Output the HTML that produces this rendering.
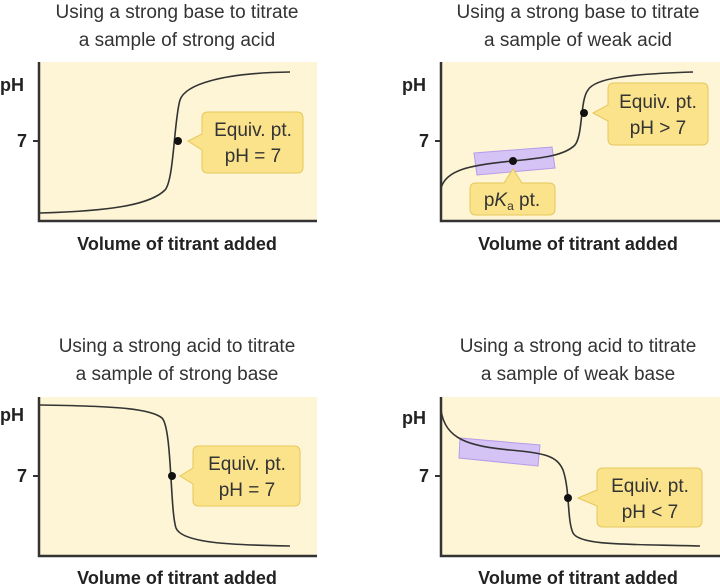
<!DOCTYPE html>
<html><head><style>
body{margin:0;background:#fff;}
svg{display:block;font-family:"Liberation Sans",sans-serif;}
.t{font-size:19px;fill:#333;text-anchor:middle;}
.ax{font-size:18px;font-weight:bold;fill:#222;text-anchor:middle;}
.lb{font-size:18px;font-weight:bold;fill:#222;}
.c{font-size:19px;fill:#333;text-anchor:middle;}
</style></head><body>
<svg width="720" height="585" viewBox="0 0 720 585">
<!-- Panel 1 -->
<text class="t" x="177" y="18">Using a strong base to titrate</text>
<text class="t" x="177" y="46">a sample of strong acid</text>
<rect x="39" y="62" width="278" height="158" fill="#fdf5d6"/>
<path d="M39,62 V221 H317" fill="none" stroke="#333" stroke-width="2.5"/>
<line x1="33" y1="141" x2="39" y2="141" stroke="#333" stroke-width="2"/>
<text class="lb" x="0" y="91">pH</text>
<text class="lb" x="17" y="147">7</text>
<path d="M40,213 C110,211 150,205 165,190 C174,180 174,120 180,100 C185,85 220,73 290,72" fill="none" stroke="#333" stroke-width="1.6"/>
<circle cx="178" cy="141" r="4" fill="#111"/>
<path d="M208,112 H297 Q303,112 303,118 V167 Q303,173 297,173 H208 Q202,173 202,167 V150 L188,141 L202,134 V118 Q202,112 208,112Z" fill="#fbe38c" stroke="#e6c75a" stroke-width="1"/>
<text class="c" x="253" y="136">Equiv. pt.</text>
<text class="c" x="253" y="162">pH = 7</text>
<text class="ax" x="177" y="250">Volume of titrant added</text>

<!-- Panel 2 -->
<text class="t" x="578" y="18">Using a strong base to titrate</text>
<text class="t" x="578" y="46">a sample of weak acid</text>
<rect x="441" y="62" width="279" height="158" fill="#fdf5d6"/>
<path d="M441,62 V221 H720" fill="none" stroke="#333" stroke-width="2.5"/>
<line x1="435" y1="141" x2="441" y2="141" stroke="#333" stroke-width="2"/>
<text class="lb" x="402" y="91">pH</text>
<text class="lb" x="419" y="147">7</text>
<path d="M474,153 L552,147 L555,168 L477,175Z" fill="#d5c3f5" stroke="#b79be8" stroke-width="1"/>
<path d="M441,188 C446,170 470,165 512,161 C545,158 565,155 575,145 C583,135 580,100 588,90 C595,78 630,74 693,72" fill="none" stroke="#333" stroke-width="1.6"/>
<circle cx="513" cy="161" r="4" fill="#111"/>
<circle cx="584" cy="113" r="4" fill="#111"/>
<path d="M476,183 H504 L513,169 L522,183 H549 Q555,183 555,189 V209 Q555,215 549,215 H476 Q470,215 470,209 V189 Q470,183 476,183Z" fill="#fbe38c" stroke="#e6c75a" stroke-width="1"/>
<text class="c" x="512" y="206">p<tspan font-style="italic">K</tspan><tspan font-size="12" dy="4">a</tspan><tspan dy="-4"> pt.</tspan></text>
<path d="M614,83 H702 Q708,83 708,89 V139 Q708,145 702,145 H614 Q608,145 608,139 V121 L593,113 L608,105 V89 Q608,83 614,83Z" fill="#fbe38c" stroke="#e6c75a" stroke-width="1"/>
<text class="c" x="658" y="108">Equiv. pt.</text>
<text class="c" x="658" y="134">pH &gt; 7</text>
<text class="ax" x="578" y="250">Volume of titrant added</text>

<!-- Panel 3 -->
<text class="t" x="177" y="352">Using a strong acid to titrate</text>
<text class="t" x="177" y="380">a sample of strong base</text>
<rect x="39" y="397" width="278" height="158" fill="#fdf5d6"/>
<path d="M39,397 V556 H317" fill="none" stroke="#333" stroke-width="2.5"/>
<line x1="33" y1="476" x2="39" y2="476" stroke="#333" stroke-width="2"/>
<text class="lb" x="0" y="421">pH</text>
<text class="lb" x="17" y="482">7</text>
<path d="M40,405 C110,406 150,408 162,418 C172,428 170,510 176,528 C182,543 230,545 290,546" fill="none" stroke="#333" stroke-width="1.6"/>
<circle cx="172" cy="476" r="4" fill="#111"/>
<path d="M199,446 H294 Q300,446 300,452 V500 Q300,506 294,506 H199 Q193,506 193,500 V484 L180,476 L193,468 V452 Q193,446 199,446Z" fill="#fbe38c" stroke="#e6c75a" stroke-width="1"/>
<text class="c" x="247" y="470">Equiv. pt.</text>
<text class="c" x="247" y="496">pH = 7</text>
<text class="ax" x="177" y="584">Volume of titrant added</text>

<!-- Panel 4 -->
<text class="t" x="578" y="352">Using a strong acid to titrate</text>
<text class="t" x="578" y="380">a sample of weak base</text>
<rect x="441" y="397" width="279" height="158" fill="#fdf5d6"/>
<path d="M441,397 V556 H720" fill="none" stroke="#333" stroke-width="2.5"/>
<line x1="435" y1="476" x2="441" y2="476" stroke="#333" stroke-width="2"/>
<text class="lb" x="402" y="424">pH</text>
<text class="lb" x="419" y="482">7</text>
<path d="M460,438 L540,445 L538,466 L459,458Z" fill="#d5c3f5" stroke="#b79be8" stroke-width="1"/>
<path d="M441,410 C445,440 470,446 510,450 C545,453 557,456 563,470 C570,490 567,520 573,533 C580,546 630,544 700,546" fill="none" stroke="#333" stroke-width="1.6"/>
<circle cx="568" cy="498" r="4" fill="#111"/>
<path d="M603,468 H696 Q702,468 702,474 V521 Q702,527 696,527 H603 Q597,527 597,521 V506 L578,498 L597,490 V474 Q597,468 603,468Z" fill="#fbe38c" stroke="#e6c75a" stroke-width="1"/>
<text class="c" x="650" y="492">Equiv. pt.</text>
<text class="c" x="650" y="518">pH &lt; 7</text>
<text class="ax" x="578" y="584">Volume of titrant added</text>
</svg>
</body></html>
